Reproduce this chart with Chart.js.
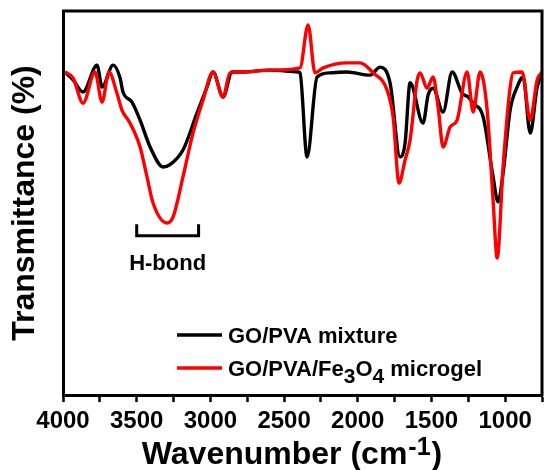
<!DOCTYPE html>
<html>
<head>
<meta charset="utf-8">
<script src="https://cdn.jsdelivr.net/npm/chart.js@4.4.0/dist/chart.umd.min.js"></script>
<style>
  html, body { margin: 0; padding: 0; background: #fff; }
  #wrap { width: 545px; height: 470px; }
</style>
</head>
<body>
<div id="wrap"><canvas id="ftirChart"></canvas></div>
<script>
// FTIR spectra (transmittance in arbitrary % units)
const mixWavenumber = [3986, 3930, 3864, 3769, 3735, 3660, 3613, 3593, 3532, 3477, 3409, 3321, 3274, 3186, 3091,
  3023, 2982, 2914, 2853, 2799, 2595, 2405, 2392, 2344, 2276, 2188, 2073, 1916, 1849, 1781, 1713, 1679, 1645,
  1557, 1523, 1489, 1421, 1360, 1292, 1251, 1217, 1149, 1082, 1048, 1014, 966, 919, 878, 830, 783, 749];
const mixTrans = [84.1, 82.0, 78.9, 85.9, 80.2, 85.9, 82.6, 78.9, 76.3, 71.6, 64.6, 59.4, 60.0, 63.8, 73.4,
  80.2, 84.1, 77.6, 84.1, 84.1, 84.6, 84.1, 83.9, 62.0, 82.8, 83.9, 84.1, 83.3, 85.4, 81.3, 62.0, 65.6, 81.3,
  70.8, 78.1, 79.9, 73.7, 84.1, 78.6, 77.6, 76.0, 72.4, 56.8, 50.3, 57.8, 74.2, 80.2, 82.8, 68.2, 80.2, 84.1];

const gelWavenumber = [3986, 3932, 3864, 3783, 3735, 3688, 3634, 3600, 3545, 3477, 3430, 3389, 3294, 3253, 3186,
  3118, 3050, 2982, 2914, 2867, 2785, 2595, 2392, 2337, 2290, 2235, 2073, 1984, 1896, 1801, 1760, 1720, 1679,
  1645, 1597, 1577, 1530, 1489, 1455, 1421, 1373, 1326, 1258, 1217, 1170, 1122, 1082, 1054, 1014, 966, 946,
  885, 830, 783, 749];
const gelTrans = [84.1, 82.6, 76.0, 84.1, 76.3, 84.1, 78.6, 74.2, 70.8, 64.6, 56.8, 50.0, 44.8, 46.4, 56.8,
  68.2, 76.8, 84.1, 77.6, 83.9, 84.1, 84.6, 85.2, 96.4, 83.9, 85.2, 86.5, 86.5, 83.9, 79.4, 72.4, 55.2, 61.2,
  66.4, 82.0, 83.9, 79.9, 82.8, 75.0, 64.6, 69.8, 71.6, 84.1, 73.7, 84.1, 74.2, 50.8, 35.7, 59.4, 80.2, 83.9,
  84.1, 71.6, 82.0, 84.1];

const seriesLabels = ["GO/PVA mixture", "GO/PVA/Fe3O4 microgel"];
const seriesColors = ["#000000", "#ff0000"];

// H-bond bracket (wavenumber range and level)
const hBondRange = [3500, 3080];
const hBondLevel = 41.5;

const FONT = "'Liberation Sans', Arial, sans-serif";
Chart.defaults.font.family = FONT;
Chart.defaults.color = "#000";

function toPoints(xs, ys) {
  return xs.map((x, i) => ({ x: x, y: ys[i] }));
}

// draws text where digits become subscripts (Fe3O4)
function drawChemText(ctx, text, x, y, size) {
  const parts = text.split(/(\d)/).filter((p) => p !== "");
  let cx = x;
  parts.forEach((p) => {
    if (/^\d$/.test(p)) {
      ctx.font = "bold " + (size - 1) + "px " + FONT;
      ctx.fillText(p, cx, y + 7);
    } else {
      ctx.font = "bold " + size + "px " + FONT;
      ctx.fillText(p, cx, y);
    }
    cx += ctx.measureText(p).width;
  });
}

const extrasPlugin = {
  id: "extras",
  afterDraw(chart) {
    const { ctx, chartArea: a, scales } = chart;
    const x = scales.x, y = scales.y;
    ctx.save();

    // top and right frame
    ctx.strokeStyle = "#000";
    ctx.lineWidth = 3;
    ctx.beginPath();
    ctx.moveTo(a.left - 1, a.top);
    ctx.lineTo(a.right, a.top);
    ctx.lineTo(a.right, a.bottom + 1);
    ctx.stroke();

    // H-bond bracket
    const x1 = x.getPixelForValue(hBondRange[0]);
    const x2 = x.getPixelForValue(hBondRange[1]);
    const yb = y.getPixelForValue(hBondLevel);
    const yt = y.getPixelForValue(hBondLevel + 3);
    ctx.beginPath();
    ctx.moveTo(x1, yt);
    ctx.lineTo(x1, yb);
    ctx.lineTo(x2, yb);
    ctx.lineTo(x2, yt);
    ctx.stroke();
    ctx.font = "bold 22px " + FONT;
    ctx.textAlign = "center";
    ctx.textBaseline = "alphabetic";
    ctx.fillStyle = "#000";
    ctx.fillText("H-bond", (x1 + x2) / 2, yb + 34);

    // legend
    ctx.textAlign = "left";
    const lx1 = a.right - 365, lx2 = a.right - 320;
    seriesLabels.forEach((label, i) => {
      const ly = a.bottom - 60 + i * 33;
      ctx.strokeStyle = seriesColors[i];
      ctx.lineWidth = 3.5;
      ctx.beginPath();
      ctx.moveTo(lx1, ly);
      ctx.lineTo(lx2, ly);
      ctx.stroke();
      ctx.fillStyle = "#000";
      drawChemText(ctx, label, lx2 + 6, ly + 8, 22);
    });

    // x axis title with superscript
    const main = "Wavenumber (cm";
    const sup = "-1";
    const close = ")";
    ctx.font = "bold 32px " + FONT;
    const wMain = ctx.measureText(main).width;
    const wClose = ctx.measureText(close).width;
    ctx.font = "bold 25px " + FONT;
    const wSup = ctx.measureText(sup).width;
    const total = wMain + wSup + wClose + 2;
    let tx = 292 - total / 2;
    const base = 464;
    ctx.font = "bold 32px " + FONT;
    ctx.fillText(main, tx, base);
    tx += wMain + 1;
    ctx.font = "bold 25px " + FONT;
    ctx.fillText(sup, tx, base - 9);
    tx += wSup + 1;
    ctx.font = "bold 32px " + FONT;
    ctx.fillText(close, tx, base);

    ctx.restore();
  }
};

new Chart(document.getElementById("ftirChart"), {
  type: "line",
  data: {
    datasets: [
      {
        label: seriesLabels[0],
        data: toPoints(mixWavenumber, mixTrans),
        borderColor: seriesColors[0],
        borderWidth: 3.4,
        pointRadius: 0,
        cubicInterpolationMode: "monotone",
        order: 1,
      },
      {
        label: seriesLabels[1],
        data: toPoints(gelWavenumber, gelTrans),
        borderColor: seriesColors[1],
        borderWidth: 3.4,
        pointRadius: 0,
        cubicInterpolationMode: "monotone",
        order: 0,
      },
    ],
  },
  options: {
    responsive: true,
    maintainAspectRatio: false,
    animation: false,
    layout: { padding: { left: 0, right: 3, top: 11, bottom: 30 } },
    plugins: {
      legend: { display: false },
      tooltip: { enabled: false },
    },
    scales: {
      x: {
        type: "linear",
        reverse: true,
        min: 750,
        max: 4000,
        ticks: {
          stepSize: 250,
          autoSkip: false,
          maxRotation: 0,
          padding: 3,
          font: { size: 24, weight: "bold", lineHeight: 1.33 },
          color: "#000",
          callback: (value) => (value % 500 === 0 ? value : ""),
        },
        grid: {
          display: true,
          drawOnChartArea: false,
          drawTicks: true,
          tickLength: 7,
          tickWidth: 2.5,
          tickColor: "#000",
        },
        border: { display: true, width: 3, color: "#000" },
      },
      y: {
        min: 0,
        max: 100,
        ticks: { display: false },
        grid: { display: false, drawTicks: false },
        border: { display: true, width: 3, color: "#000" },
        title: {
          display: true,
          text: "Transmittance (%)",
          font: { size: 32, weight: "bold" },
          color: "#000",
          padding: { top: 6, bottom: 18.6 },
        },
      },
    },
  },
  plugins: [extrasPlugin],
});
</script>
</body>
</html>
